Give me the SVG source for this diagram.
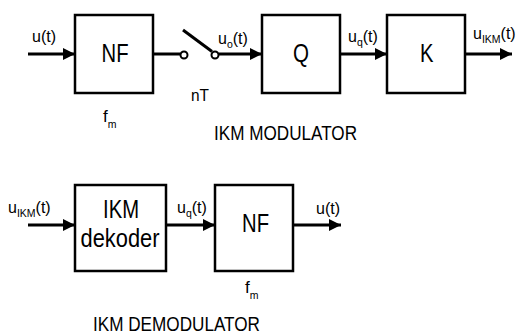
<svg xmlns="http://www.w3.org/2000/svg" width="520" height="334" viewBox="0 0 520 334">
<style>
text{font-family:"Liberation Sans",Arial,sans-serif;fill:#000}
.box{fill:#fff;stroke:#000;stroke-width:2.5}
.wire{stroke:#000;stroke-width:3;fill:none}
.big{font-size:25px}
.lab{font-size:16px}
.cap{font-size:21px}
.sub{font-size:10.5px}
.pin{fill:#fff;stroke:#000;stroke-width:2}
</style>
<defs>
<marker id="arr" markerUnits="userSpaceOnUse" markerWidth="13" markerHeight="13" refX="12" refY="6" orient="auto">
<path d="M0,0 L12,6 L0,12 z" fill="#000"/>
</marker>
</defs>
<g id="connectors">
<line class="wire" x1="28" y1="54" x2="75" y2="54" marker-end="url(#arr)"/>
<line class="wire" x1="153" y1="54" x2="180.5" y2="54"/>
<line class="wire" x1="183" y1="30" x2="212" y2="51.5" stroke-width="2.5"/>
<line class="wire" x1="218.5" y1="54" x2="262" y2="54" marker-end="url(#arr)"/>
<line class="wire" x1="340" y1="54" x2="387" y2="54" marker-end="url(#arr)"/>
<line class="wire" x1="465" y1="54" x2="512" y2="54" marker-end="url(#arr)"/>
<line class="wire" x1="28" y1="225" x2="75" y2="225" marker-end="url(#arr)"/>
<line class="wire" x1="166" y1="225" x2="215" y2="225" marker-end="url(#arr)"/>
<line class="wire" x1="293" y1="225" x2="341" y2="225" marker-end="url(#arr)"/>
<circle class="pin" cx="184" cy="55" r="3.5"/>
<circle class="pin" cx="215" cy="55" r="3.5"/>
</g>
<g id="nf1">
<rect class="box" x="75" y="15" width="78" height="78"/>
<text class="big" x="101.5" y="62" textLength="27" lengthAdjust="spacingAndGlyphs">NF</text>
</g>
<g id="q">
<rect class="box" x="262" y="15" width="78" height="78"/>
<text class="big" x="293" y="62" textLength="16" lengthAdjust="spacingAndGlyphs">Q</text>
</g>
<g id="k">
<rect class="box" x="387" y="15" width="78" height="78"/>
<text class="big" x="420" y="62" textLength="13.5" lengthAdjust="spacingAndGlyphs">K</text>
</g>
<g id="dek">
<rect class="box" x="75" y="185" width="91" height="86"/>
<text class="big" x="103" y="218" textLength="36" lengthAdjust="spacingAndGlyphs">IKM</text>
<text class="big" x="80.5" y="247" textLength="79" lengthAdjust="spacingAndGlyphs">dekoder</text>
</g>
<g id="nf2">
<rect class="box" x="215" y="185" width="78" height="86"/>
<text class="big" x="242" y="232" textLength="27" lengthAdjust="spacingAndGlyphs">NF</text>
</g>
<g id="labels">
<text class="lab" x="32" y="42">u(t)</text>
<text class="lab" x="218" y="44">u<tspan class="sub" dy="4">o</tspan><tspan dy="-4">(t)</tspan></text>
<text class="lab" x="348" y="42">u<tspan class="sub" dy="4">q</tspan><tspan dy="-4">(t)</tspan></text>
<text class="lab" x="473" y="39">u<tspan class="sub" dy="4">IKM</tspan><tspan dy="-4">(t)</tspan></text>
<text style="font-size:17px" x="191" y="101" textLength="18" lengthAdjust="spacingAndGlyphs">nT</text>
<text style="font-size:17px" x="103" y="122">f<tspan class="sub" dy="6">m</tspan></text>
<text class="cap" x="214" y="140" textLength="143" lengthAdjust="spacingAndGlyphs">IKM MODULATOR</text>
<text class="lab" x="8" y="213">u<tspan class="sub" dy="4">IKM</tspan><tspan dy="-4">(t)</tspan></text>
<text class="lab" x="177" y="213">u<tspan class="sub" dy="4">q</tspan><tspan dy="-4">(t)</tspan></text>
<text class="lab" x="316" y="214">u(t)</text>
<text style="font-size:17px" x="245" y="293">f<tspan class="sub" dy="6">m</tspan></text>
<text class="cap" x="93" y="331" textLength="167" lengthAdjust="spacingAndGlyphs">IKM DEMODULATOR</text>
</g>
</svg>
